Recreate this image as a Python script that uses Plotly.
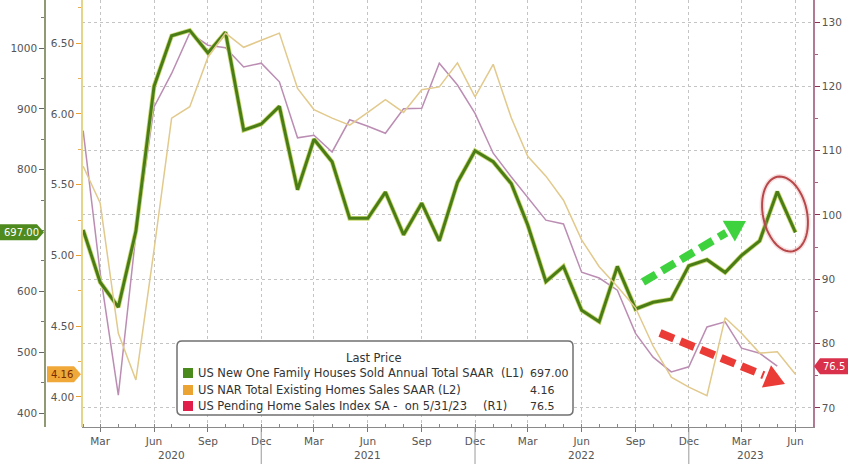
import math
import pandas as pd
import plotly.graph_objects as go

# ---------------- data ----------------
months = pd.date_range("2020-02-01", "2023-06-01", freq="MS")

new_home_sales = [701, 615, 574, 699, 937, 1020, 1029, 992, 1026, 865, 875, 904, 767, 850,
                  813, 720, 720, 763, 693, 745, 683, 779, 831, 813, 777, 709, 616, 641, 569,
                  550, 641, 571, 582, 587, 642, 652, 631, 659, 683, 764, 697]
existing_home_sales = [5.63, 5.37, 4.45, 4.12, 5.04, 5.97, 6.05, 6.40, 6.57, 6.47, 6.52, 6.57,
                       6.18, 6.03, 5.97, 5.92, 6.01, 6.10, 6.01, 6.17, 6.19, 6.36, 6.12, 6.35,
                       5.97, 5.70, 5.56, 5.39, 5.11, 4.92, 4.78, 4.63, 4.36, 4.14, 4.07, 4.01,
                       4.56, 4.45, 4.31, 4.32, 4.16]
pending_home_sales = [113.1, 91.0, 72.0, 97.0, 116.8, 122.0, 128.3, 126.4, 126.0, 123.0, 123.6,
                      120.7, 112.0, 112.4, 109.8, 114.8, 113.8, 112.7, 116.5, 116.6, 123.6, 120.2,
                      115.8, 109.6, 105.9, 102.8, 99.2, 98.6, 91.1, 90.2, 88.3, 81.6, 77.9, 75.6,
                      76.4, 82.6, 83.4, 79.3, 78.5, 76.5]

tick_dates = pd.date_range("2020-03-01", "2023-06-01", freq="3MS")
tick_text = [d.strftime("%b") for d in tick_dates]
year_labels = ["2020", "2021", "2022", "2023"]
year_label_dates = ["2020-07-01", "2021-06-01", "2022-06-01", "2023-03-16"]
year_sep_dates = ["2020-12-01", "2021-12-01", "2022-12-01"]

l1_ticks = [400, 500, 600, 800, 900, 1000]   # 700 sits under the last-value tag
l2_ticks = [4.0, 4.5, 5.0, 5.5, 6.0, 6.5]
r1_ticks = [70, 80, 90, 100, 110, 120, 130]

legend_labels = ["US New One Family Houses Sold Annual Total SAAR",
                 "US NAR Total Existing Homes Sales SAAR",
                 "US Pending Home Sales Index SA - &nbsp;on 5/31/23"]
legend_axes = ["(L1)", "(L2)", "(R1)"]
legend_values = ["697.00", "4.16", "76.5"]

# ---------------- geometry ----------------
W, H = 848, 464
MR, MB = 35, 37
PW, PH = W - MR, H - MB

R1_RANGE = [67.04, 133.42]
L1_RANGE = [377.0, 1078.9]
L2_RANGE = [3.788, 6.804]


def px(x):
    return x / PW


def py(y):
    return (PH - y) / PH


def val_to_py(v, rng):
    return PH * (1 - (v - rng[0]) / (rng[1] - rng[0]))


FONT = "DejaVu Sans"
GREEN = "#4b7d16"
TAN = "#e2c98c"
PINK = "#bb8db3"

fig = go.Figure()
fig.add_trace(go.Scatter(x=months[:len(pending_home_sales)], y=pending_home_sales, yaxis="y",
                         mode="lines", line=dict(color=PINK, width=1.5), showlegend=False))
fig.add_trace(go.Scatter(x=months, y=existing_home_sales, yaxis="y3",
                         mode="lines", line=dict(color=TAN, width=1.5), showlegend=False))
fig.add_trace(go.Scatter(x=months, y=new_home_sales, yaxis="y2",
                         mode="lines", line=dict(color="#c9d873", width=4.6), showlegend=False))
fig.add_trace(go.Scatter(x=months, y=new_home_sales, yaxis="y2",
                         mode="lines", line=dict(color=GREEN, width=3), showlegend=False))

tickfont = dict(family=FONT, size=10.5, color="#555555")

shapes = []
annotations = []

# year separators + labels
for d in year_sep_dates:
    shapes.append(dict(type="line", xref="x", yref="paper", x0=d, x1=d, y0=0, y1=py(464),
                       line=dict(color="#9a9a9a", width=1)))
for t, d in zip(year_labels, year_label_dates):
    annotations.append(dict(text=t, xref="x", yref="paper", x=d, y=py(455), showarrow=False,
                            font=tickfont, xanchor="center", yanchor="middle"))


def poly(points, fill, line_color=None, width=0, opacity=1.0):
    path = "M " + " L ".join(f"{px(a):.5f},{py(b):.5f}" for a, b in points) + " Z"
    return dict(type="path", xref="paper", yref="paper", path=path, fillcolor=fill,
                line=dict(color=line_color or fill, width=width), opacity=opacity, layer="above")


# value tags
yg = val_to_py(new_home_sales[-1], L1_RANGE)
shapes.append(poly([(0, yg - 8), (37, yg - 8), (44, yg), (37, yg + 8), (0, yg + 8)], "#4e8a1e"))
annotations.append(dict(text="697.00", xref="paper", yref="paper", x=px(21), y=py(yg),
                        showarrow=False, font=dict(family=FONT, size=10, color="#ffffff"),
                        xanchor="center", yanchor="middle"))
yo = val_to_py(existing_home_sales[-1], L2_RANGE)
shapes.append(poly([(47, yo - 8), (74, yo - 8), (81, yo), (74, yo + 8), (47, yo + 8)], "#f0a838"))
annotations.append(dict(text="4.16", xref="paper", yref="paper", x=px(62), y=py(yo),
                        showarrow=False, font=dict(family=FONT, size=10, color="#7a2a00"),
                        xanchor="center", yanchor="middle"))
yr = val_to_py(pending_home_sales[-1], R1_RANGE)
shapes.append(poly([(814, yr), (820, yr - 8), (848, yr - 8), (848, yr + 8), (820, yr + 8)], "#d9314c"))
annotations.append(dict(text="76.5", xref="paper", yref="paper", x=px(834), y=py(yr),
                        showarrow=False, font=dict(family=FONT, size=10, color="#ffffff"),
                        xanchor="center", yanchor="middle"))


# dashed arrows
def arrow(S, T, color, width=8, headL=20, headW=24):
    dx, dy = T[0] - S[0], T[1] - S[1]
    L = math.hypot(dx, dy)
    ux, uy = dx / L, dy / L
    nx, ny = -uy, ux
    B = (T[0] - ux * headL, T[1] - uy * headL)
    shapes.append(dict(type="line", xref="paper", yref="paper",
                       x0=px(S[0]), y0=py(S[1]), x1=px(B[0] - ux * 3), y1=py(B[1] - uy * 3),
                       line=dict(color=color, width=width, dash="15px,7px"), layer="above"))
    shapes.append(poly([T, (B[0] + nx * headW / 2, B[1] + ny * headW / 2),
                        (B[0] - nx * headW / 2, B[1] - ny * headW / 2)], color))


arrow((643, 282), (746, 221), "#3fd23f")
arrow((660, 333), (785, 384), "#ea3b36")

# ellipse around the peak
cx, cy, ea, eb, th = 785, 214, 22, 38, math.radians(-12)
pts = []
for i in range(60):
    t = 2 * math.pi * i / 60
    ex, ey = ea * math.cos(t), eb * math.sin(t)
    pts.append((cx + ex * math.cos(th) - ey * math.sin(th), cy + ex * math.sin(th) + ey * math.cos(th)))
epath = "M " + " L ".join(f"{px(a):.5f},{py(b):.5f}" for a, b in pts) + " Z"
shapes.append(dict(type="path", xref="paper", yref="paper", path=epath,
                   line=dict(color="rgba(230,150,150,0.3)", width=5), layer="above"))
shapes.append(dict(type="path", xref="paper", yref="paper", path=epath,
                   line=dict(color="#b8474a", width=2), layer="above"))

# legend box
lx0, ly0, lx1, ly1, rr = 177, 341, 573, 415, 5
lpath = (f"M {px(lx0 + rr)},{py(ly0)} L {px(lx1 - rr)},{py(ly0)} Q {px(lx1)},{py(ly0)} {px(lx1)},{py(ly0 + rr)} "
         f"L {px(lx1)},{py(ly1 - rr)} Q {px(lx1)},{py(ly1)} {px(lx1 - rr)},{py(ly1)} "
         f"L {px(lx0 + rr)},{py(ly1)} Q {px(lx0)},{py(ly1)} {px(lx0)},{py(ly1 - rr)} "
         f"L {px(lx0)},{py(ly0 + rr)} Q {px(lx0)},{py(ly0)} {px(lx0 + rr)},{py(ly0)} Z")
shapes.append(dict(type="path", xref="paper", yref="paper", path=lpath, fillcolor="#ffffff",
                   line=dict(color="#707070", width=1.5), layer="above"))
lfont = dict(family=FONT, size=11.5, color="#333333")
vfont = dict(family=FONT, size=11, color="#333333")
annotations.append(dict(text="Last Price", xref="paper", yref="paper", x=px(374), y=py(358),
                        showarrow=False, font=lfont, xanchor="center", yanchor="middle"))
row_y = [373, 390, 406]
sq_colors = ["#4a8a1c", "#eba431", "#e0204a"]
axis_x = [499, 436, 481]
for yv, c, lab, ax_lab, axx, v in zip(row_y, sq_colors, legend_labels, legend_axes, axis_x, legend_values):
    shapes.append(dict(type="rect", xref="paper", yref="paper", x0=px(183), x1=px(193),
                       y0=py(yv - 5), y1=py(yv + 5), fillcolor=c, line=dict(width=0), layer="above"))
    annotations.append(dict(text=lab, xref="paper", yref="paper", x=px(196), y=py(yv),
                            showarrow=False, font=lfont, xanchor="left", yanchor="middle"))
    annotations.append(dict(text=ax_lab, xref="paper", yref="paper", x=px(axx), y=py(yv),
                            showarrow=False, font=lfont, xanchor="left", yanchor="middle"))
    annotations.append(dict(text=v, xref="paper", yref="paper", x=px(528), y=py(yv),
                            showarrow=False, font=vfont, xanchor="left", yanchor="middle"))

GRID = "#c4c4c4"
fig.update_layout(
    width=W, height=H,
    margin=dict(l=0, r=MR, t=0, b=MB, pad=0),
    paper_bgcolor="#ffffff", plot_bgcolor="#ffffff",
    showlegend=False,
    xaxis=dict(type="date", range=["2020-01-30", "2023-07-01"], domain=[82 / PW, 1],
               tickvals=list(tick_dates), ticktext=tick_text, tickfont=tickfont,
               showgrid=True, griddash="dot", gridcolor=GRID, gridwidth=1,
               showline=True, linecolor="#8a8a8a", linewidth=1,
               ticks="outside", ticklen=4, tickcolor="#777777",
               minor=dict(dtick="M1", tick0="2020-02-01", ticks="inside", ticklen=3,
                          tickcolor="#888888", showgrid=False),
               zeroline=False, automargin=False),
    yaxis=dict(side="right", anchor="x", range=R1_RANGE, tickvals=r1_ticks,
               tickfont=tickfont, showgrid=True, griddash="dot", gridcolor=GRID, gridwidth=1,
               showline=True, linecolor="#b27a95", linewidth=1.5,
               ticks="outside", ticklen=5, tickcolor="#8a3050",
               minor=dict(dtick=5, ticks="outside", ticklen=3, tickcolor="#a06080"),
               zeroline=False, automargin=False),
    yaxis2=dict(overlaying="y", anchor="free", position=45 / PW, side="left", range=L1_RANGE,
                tickvals=l1_ticks, tickfont=tickfont, showgrid=False,
                showline=True, linecolor="#8f9a74", linewidth=1.5,
                ticks="outside", ticklen=5, tickcolor="#666666",
                minor=dict(dtick=50, ticks="outside", ticklen=3, tickcolor="#777777"),
                zeroline=False, automargin=False),
    yaxis3=dict(overlaying="y", anchor="free", position=82 / PW, side="left", range=L2_RANGE,
                tickvals=l2_ticks, tickformat=".2f", tickfont=tickfont,
                showgrid=False, showline=True, linecolor="#e3d58a", linewidth=1.5,
                ticks="outside", ticklen=5, tickcolor="#e8a030",
                minor=dict(dtick=0.25, ticks="outside", ticklen=3, tickcolor="#e8b050"),
                zeroline=False, automargin=False),
    shapes=shapes,
    annotations=annotations,
)

fig.write_html("out.html", config={"displayModeBar": False},
               post_script="document.body.style.margin='0';document.body.style.overflow='hidden';")
